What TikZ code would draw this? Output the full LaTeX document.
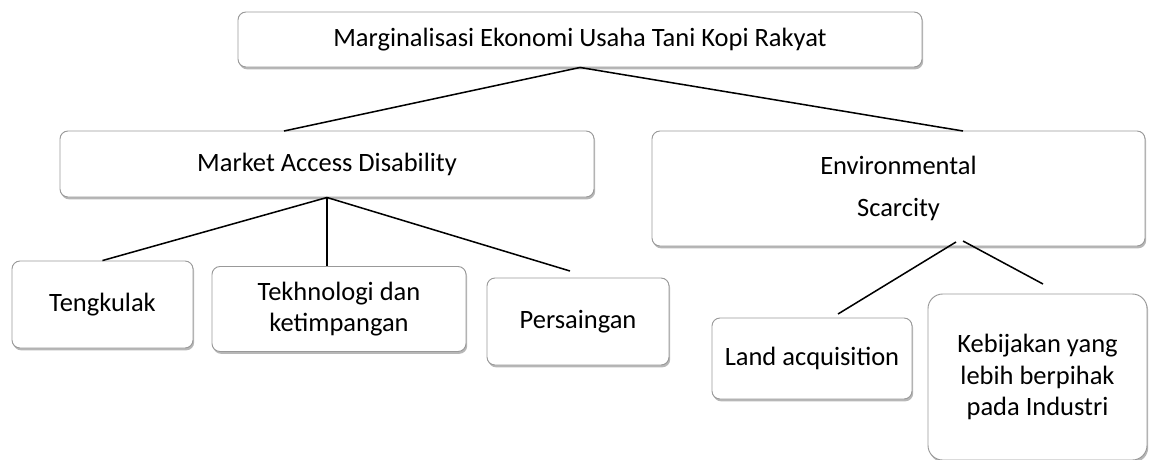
\documentclass[tikz,border=0pt]{standalone}
\usepackage{fontspec}
\setmainfont{Carlito}
\usepackage{tikz}
\usetikzlibrary{shadows}

\begin{document}
\begin{tikzpicture}[x=0.015cm, y=-0.015cm,
        factor/.style={rectangle, draw=gray!80, line width=0.4pt, rounded corners=0.12cm, fill=white, align=center,
            font=\fontsize{11.3}{13.4}\selectfont, inner sep=0pt,
            drop shadow={shadow xshift=0.5pt, shadow yshift=-1pt, opacity=0.4, fill=black!70}},
        link/.style={line width=0.65pt, black}
    ]
        \useasboundingbox (0,0) rectangle (1151,459);

        \node[factor, minimum width=10.26cm, minimum height=0.825cm] (top) at (580,39.5) {Marginalisasi Ekonomi Usaha Tani Kopi Rakyat};

        \node[factor, minimum width=8.01cm, minimum height=0.99cm] (mad) at (327,164) {Market Access Disability};
        \node[factor, minimum width=7.395cm, minimum height=1.725cm] (env) at (898.5,188.5) {Environmental\\[4.5pt]Scarcity};

        \node[factor, minimum width=2.715cm, minimum height=1.305cm] (teng) at (102.5,304.5) {Tengkulak};
        \node[factor, minimum width=3.81cm, minimum height=1.275cm] (tekh) at (339,309) {Tekhnologi dan\\ketimpangan};
        \node[factor, minimum width=2.73cm, minimum height=1.305cm] (pers) at (578,321.5) {Persaingan};

        \node[factor, minimum width=3.0cm, minimum height=1.215cm] (land) at (812,358.5) {Land acquisition};
        \node[factor, rounded corners=0.22cm, minimum width=3.285cm, minimum height=2.49cm] (keb) at (1037.5,377) {Kebijakan yang\\lebih berpihak\\pada Industri};

        \coordinate (mad-top) at (284,131);
        \coordinate (env-top) at (963,131);
        \coordinate (pers-top) at (570,271);
        \coordinate (env-l) at (956,242);
        \coordinate (env-r) at (963,241);
        \coordinate (land-top) at (838,314);
        \coordinate (keb-top) at (1043,284);

        \draw[link] (top.south) -- (mad-top);
        \draw[link] (top.south) -- (env-top);
        \draw[link] (mad.south) -- (teng.north);
        \draw[link] (mad.south) -- (mad.south |- tekh.north);
        \draw[link] (mad.south) -- (pers-top);
        \draw[link] (env-l) -- (land-top);
        \draw[link] (env-r) -- (keb-top);
    \end{tikzpicture}
\end{document}
